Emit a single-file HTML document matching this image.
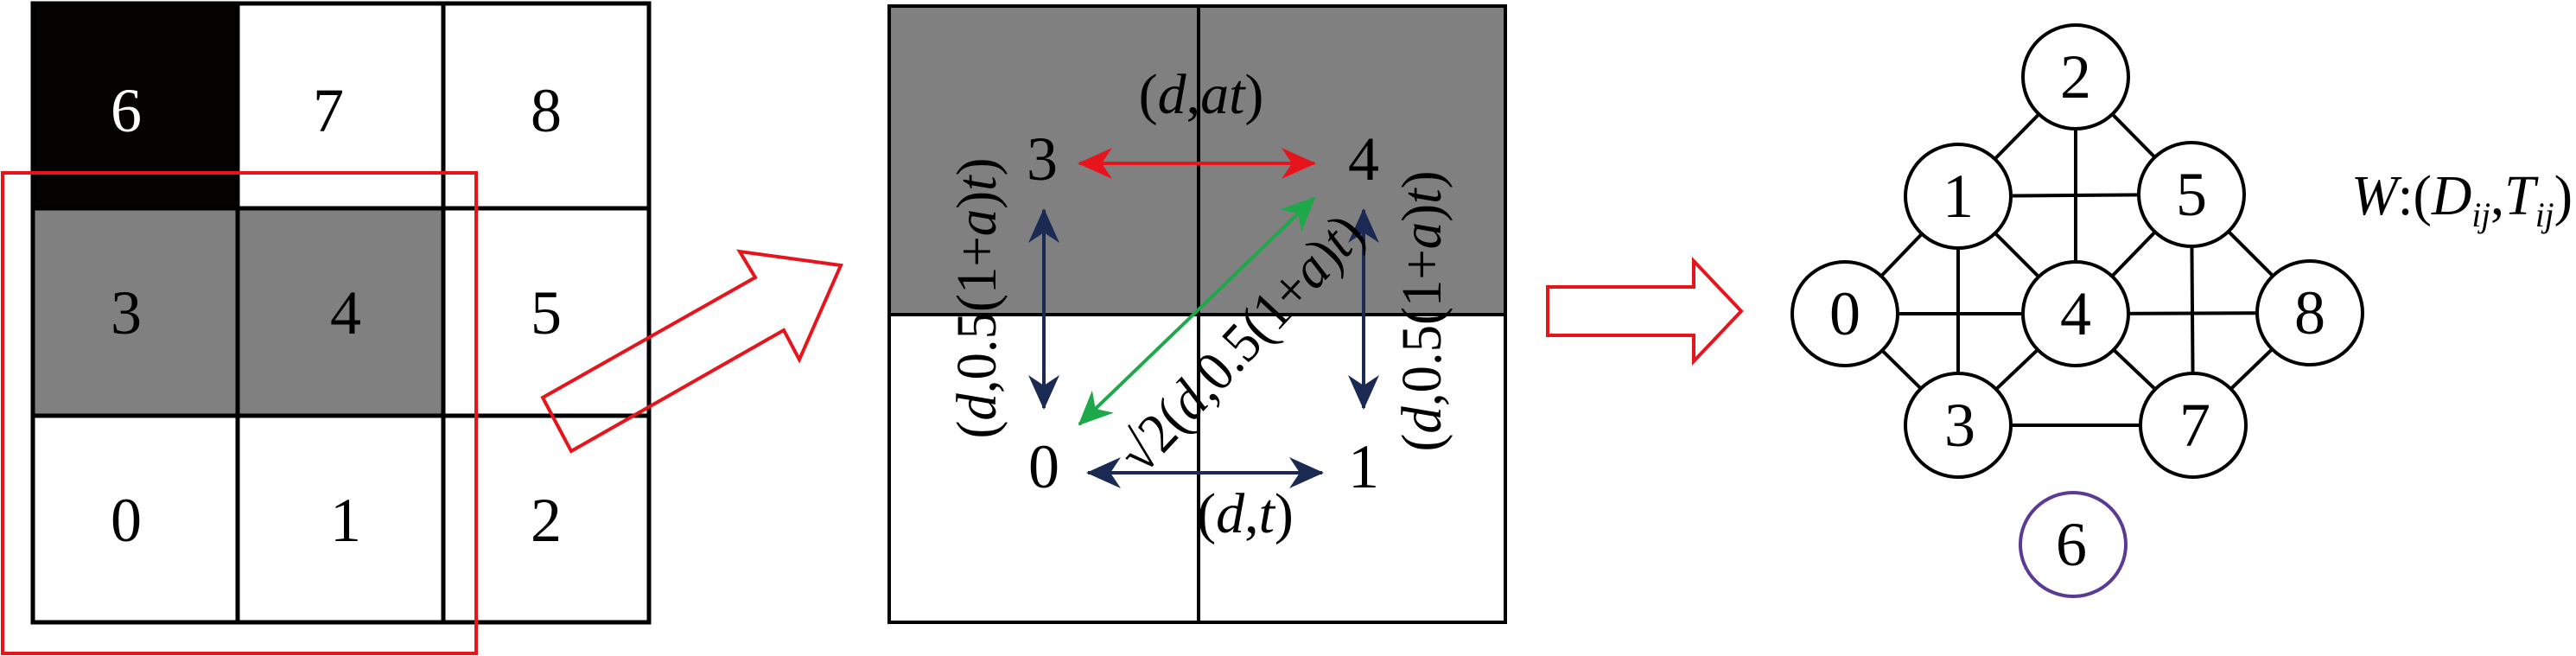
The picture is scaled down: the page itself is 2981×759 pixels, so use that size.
<!DOCTYPE html>
<html><head><meta charset="utf-8"><style>html,body{margin:0;padding:0;background:#fff}svg{display:block}svg text{font-family:"Liberation Serif","DejaVu Serif",serif}</style></head>
<body>
<svg width="2981" height="759" viewBox="0 0 2981 759" xmlns="http://www.w3.org/2000/svg" style="font-family:'Liberation Serif',serif">
<defs>
<marker id="mn" viewBox="0 0 40 36" refX="38" refY="18" markerWidth="40" markerHeight="36" markerUnits="userSpaceOnUse" orient="auto-start-reverse"><path d="M0,0 L40,18 L0,36 L12,18 Z" fill="#1b2a52"/></marker>
<marker id="mr" viewBox="0 0 40 36" refX="38" refY="18" markerWidth="40" markerHeight="36" markerUnits="userSpaceOnUse" orient="auto-start-reverse"><path d="M0,0 L40,18 L0,36 L12,18 Z" fill="#e8141c"/></marker>
<marker id="mg" viewBox="0 0 40 36" refX="38" refY="18" markerWidth="40" markerHeight="36" markerUnits="userSpaceOnUse" orient="auto-start-reverse"><path d="M0,0 L40,18 L0,36 L12,18 Z" fill="#1fa84a"/></marker>
</defs>
<!-- left grid -->
<rect x="38" y="4" width="237" height="237" fill="#050202"/>
<rect x="38" y="241" width="475" height="240" fill="#808080"/>
<g stroke="#000" stroke-width="5" fill="none">
<rect x="38" y="4" width="713" height="716"/>
<line x1="275" y1="4" x2="275" y2="720"/><line x1="513" y1="4" x2="513" y2="720"/>
<line x1="38" y1="241" x2="751" y2="241"/><line x1="38" y1="481" x2="751" y2="481"/>
</g>
<g font-size="72" text-anchor="middle">
<text x="146" y="152" fill="#fff">6</text><text x="380" y="152">7</text><text x="632" y="152">8</text>
<text x="146" y="386">3</text><text x="400" y="386">4</text><text x="632" y="386">5</text>
<text x="146" y="626">0</text><text x="400" y="626">1</text><text x="632" y="626">2</text>
</g>
<rect x="3" y="200" width="548" height="556" fill="none" stroke="#e8141c" stroke-width="4"/>
<polygon points="628,460 874,321 856,291 973,307 925,416 907,382 661,522" fill="none" stroke="#e8141c" stroke-width="4"/>
<!-- middle -->
<rect x="1029" y="7" width="713" height="357" fill="#808080"/>
<g stroke="#000" stroke-width="4" fill="none">
<rect x="1029" y="7" width="713" height="713"/>
<line x1="1387" y1="7" x2="1387" y2="720"/><line x1="1029" y1="364" x2="1742" y2="364"/>
</g>
<g font-size="72" text-anchor="middle">
<text x="1206" y="208">3</text><text x="1578" y="208">4</text>
<text x="1208" y="564">0</text><text x="1578" y="564">1</text>
</g>
<g stroke-width="4" fill="none">
<line x1="1249" y1="189" x2="1521" y2="189" stroke="#e8141c" marker-start="url(#mr)" marker-end="url(#mr)"/>
<line x1="1208" y1="243" x2="1208" y2="472" stroke="#1b2a52" marker-start="url(#mn)" marker-end="url(#mn)"/>
<line x1="1578" y1="243" x2="1578" y2="472" stroke="#1b2a52" marker-start="url(#mn)" marker-end="url(#mn)"/>
<line x1="1259" y1="547" x2="1530" y2="547" stroke="#1b2a52" marker-start="url(#mn)" marker-end="url(#mn)"/>
<line x1="1521" y1="229" x2="1249" y2="491" stroke="#1fa84a" marker-start="url(#mg)" marker-end="url(#mg)"/>
</g>
<g font-size="66">
<text x="1390" y="131" text-anchor="middle">(<tspan font-style="italic">d</tspan>,<tspan font-style="italic">at</tspan>)</text>
<text x="1441" y="616" text-anchor="middle">(<tspan font-style="italic">d</tspan>,<tspan font-style="italic">t</tspan>)</text>
<text transform="translate(1152,345) rotate(-90)" text-anchor="middle" textLength="325" lengthAdjust="spacingAndGlyphs">(<tspan font-style="italic">d</tspan>,0.5(1+<tspan font-style="italic">a</tspan>)<tspan font-style="italic">t</tspan>)</text>
<text transform="translate(1667,360) rotate(-90)" text-anchor="middle" textLength="325" lengthAdjust="spacingAndGlyphs">(<tspan font-style="italic">d</tspan>,0.5(1+<tspan font-style="italic">a</tspan>)<tspan font-style="italic">t</tspan>)</text>
<text transform="translate(1452,412) rotate(-47)" text-anchor="middle" textLength="380" lengthAdjust="spacingAndGlyphs">√2(<tspan font-style="italic">d</tspan>,0.5(1+<tspan font-style="italic">a</tspan>)<tspan font-style="italic">t</tspan>)</text>
</g>
<polygon points="1791,332 1960,332 1960,302 2015,360 1960,418 1960,388 1791,388" fill="none" stroke="#e8141c" stroke-width="4"/>
<!-- graph -->
<g stroke="#000" stroke-width="4">
<line x1="2402" y1="89" x2="2266" y2="227"/><line x1="2402" y1="89" x2="2536" y2="225"/><line x1="2402" y1="89" x2="2402" y2="363"/>
<line x1="2266" y1="227" x2="2536" y2="225"/><line x1="2266" y1="227" x2="2135" y2="363"/><line x1="2266" y1="227" x2="2266" y2="492"/><line x1="2266" y1="227" x2="2402" y2="363"/>
<line x1="2536" y1="225" x2="2402" y2="363"/><line x1="2536" y1="225" x2="2673" y2="362"/><line x1="2536" y1="225" x2="2538" y2="492"/>
<line x1="2135" y1="363" x2="2402" y2="363"/><line x1="2135" y1="363" x2="2266" y2="492"/>
<line x1="2402" y1="363" x2="2673" y2="362"/><line x1="2402" y1="363" x2="2266" y2="492"/><line x1="2402" y1="363" x2="2538" y2="492"/>
<line x1="2673" y1="362" x2="2538" y2="492"/><line x1="2266" y1="492" x2="2538" y2="492"/>
</g>
<g stroke="#000" stroke-width="4" fill="#fff">
<ellipse cx="2402" cy="89" rx="61" ry="60"/><ellipse cx="2266" cy="227" rx="61" ry="60"/><ellipse cx="2536" cy="225" rx="61" ry="60"/>
<ellipse cx="2135" cy="363" rx="61" ry="60"/><ellipse cx="2402" cy="363" rx="61" ry="60"/><ellipse cx="2673" cy="362" rx="61" ry="60"/>
<ellipse cx="2266" cy="492" rx="61" ry="60"/><ellipse cx="2538" cy="492" rx="61" ry="60"/>
</g>
<ellipse cx="2399" cy="630" rx="61" ry="60" fill="#fff" stroke="#5b3a96" stroke-width="4"/>
<g font-size="72" text-anchor="middle">
<text x="2402" y="113">2</text><text x="2266" y="251">1</text><text x="2536" y="249">5</text>
<text x="2135" y="387">0</text><text x="2402" y="387">4</text><text x="2673" y="386">8</text>
<text x="2268" y="516">3</text><text x="2540" y="516">7</text><text x="2397" y="654">6</text>
</g>
<text x="2721" y="248" font-size="66" textLength="256" lengthAdjust="spacingAndGlyphs"><tspan font-style="italic">W</tspan>:(<tspan font-style="italic">D</tspan><tspan font-style="italic" font-size="40" dy="14">ij</tspan><tspan dy="-14">,</tspan><tspan font-style="italic">T</tspan><tspan font-style="italic" font-size="40" dy="14">ij</tspan><tspan dy="-14">)</tspan></text>
</svg>
</body></html>
